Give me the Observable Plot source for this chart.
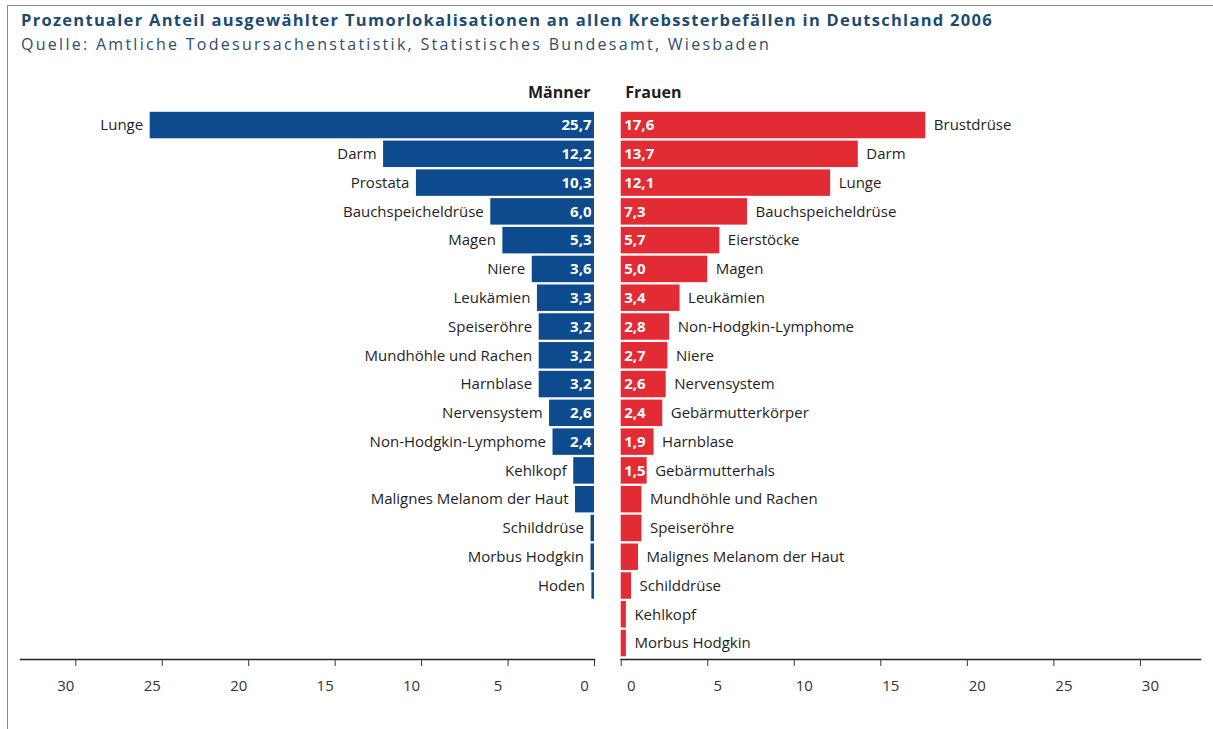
<!DOCTYPE html>
<html>
<head>
<meta charset="utf-8">
<script src="https://cdn.jsdelivr.net/npm/d3@7"></script>
<script src="https://cdn.jsdelivr.net/npm/@observablehq/plot@0.6"></script>
<style>
  html, body { margin: 0; padding: 0; background: #fff; }
  #wrap { position: relative; width: 1213px; height: 729px; overflow: hidden; font-family: "Open Sans", sans-serif; }
  #frameTop { position: absolute; left: 7px; top: 5px; right: 0; height: 0; border-top: 1px solid #8a8a8a; }
  #frameLeft { position: absolute; left: 7px; top: 5px; bottom: 0; width: 0; border-left: 1px solid #8a8a8a; }
  .head { position: absolute; left: 21px; white-space: nowrap; display: inline-block; line-height: 1; }
  #title { top: 12px; font-size: 16.5px; font-weight: bold; color: #1a4c72; }
  #subtitle { top: 36px; font-size: 16px; color: #2e4d68; }
  #left { position: absolute; left: 0; top: 70px; }
  #right { position: absolute; left: 607px; top: 70px; }
</style>
</head>
<body>
<div id="wrap">
  <div id="left"></div>
  <div id="right"></div>
  <div class="head" id="title">Prozentualer Anteil ausgewählter Tumorlokalisationen an allen Krebssterbefällen in Deutschland 2006</div>
  <div class="head" id="subtitle">Quelle: Amtliche Todesursachenstatistik, Statistisches Bundesamt, Wiesbaden</div>
  <div id="frameTop"></div>
  <div id="frameLeft"></div>
</div>
<script>
// ---- data ----
const maleCategories = ["Lunge", "Darm", "Prostata", "Bauchspeicheldrüse", "Magen", "Niere", "Leukämien", "Speiseröhre", "Mundhöhle und Rachen", "Harnblase", "Nervensystem", "Non-Hodgkin-Lymphome", "Kehlkopf", "Malignes Melanom der Haut", "Schilddrüse", "Morbus Hodgkin", "Hoden"];
const maleValues = [25.7, 12.2, 10.3, 6.0, 5.3, 3.6, 3.3, 3.2, 3.2, 3.2, 2.6, 2.4, 1.2, 1.1, 0.2, 0.2, 0.15];
const femaleCategories = ["Brustdrüse", "Darm", "Lunge", "Bauchspeicheldrüse", "Eierstöcke", "Magen", "Leukämien", "Non-Hodgkin-Lymphome", "Niere", "Nervensystem", "Gebärmutterkörper", "Harnblase", "Gebärmutterhals", "Mundhöhle und Rachen", "Speiseröhre", "Malignes Melanom der Haut", "Schilddrüse", "Kehlkopf", "Morbus Hodgkin"];
const femaleValues = [17.6, 13.7, 12.1, 7.3, 5.7, 5.0, 3.4, 2.8, 2.7, 2.6, 2.4, 1.9, 1.5, 1.2, 1.2, 1.0, 0.6, 0.3, 0.3];
const tickValues = [0, 5, 10, 15, 20, 25, 30];
const panelTitles = ["Männer", "Frauen"];
const labelThreshold = 1.5;

// ---- styling ----
const BLUE = "#0d4b8e";
const RED = "#e32b36";
const FONT = "Open Sans, sans-serif";
const ranks = d3.range(Math.max(maleCategories.length, femaleCategories.length));
const fmt = v => v.toFixed(1).replace(".", ",");

const male = maleCategories.map((name, i) => ({rank: i, name, value: maleValues[i]}));
const female = femaleCategories.map((name, i) => ({rank: i, name, value: femaleValues[i]}));

function panel(data, side) {
  const isLeft = side === "left";
  const color = isLeft ? BLUE : RED;
  return Plot.plot({
    width: isLeft ? 607 : 606,
    height: 659,
    marginTop: 41.8,
    marginBottom: 70,
    marginLeft: isLeft ? 20 : 13.7,
    marginRight: 13,
    style: {background: "transparent", fontFamily: FONT, fontSize: "15px", color: "#222", overflow: "visible"},
    x: {domain: [0, isLeft ? 33.2 : 33.47], reverse: isLeft, label: null},
    y: {type: "band", domain: ranks, paddingInner: 0.08, paddingOuter: 0, round: false, insetBottom: 2.7, axis: null},
    marks: [
      Plot.barX(data, {x: "value", y: "rank", fill: color}),
      Plot.text(data, {
        x: "value", y: "rank", text: "name",
        textAnchor: isLeft ? "end" : "start", dx: isLeft ? -7 : 8,
        fill: "#1e1e1e", fontSize: 15
      }),
      Plot.text(data.filter(d => d.value >= labelThreshold), {
        x: 0, y: "rank", text: d => fmt(d.value),
        textAnchor: isLeft ? "end" : "start", dx: isLeft ? -3 : 3,
        fill: "white", fontWeight: "bold", fontSize: 15
      }),
      Plot.frame({anchor: "bottom", stroke: "#222", strokeWidth: 1.5}),
      Plot.axisX({ticks: tickValues, tickSize: 7, tickFormat: () => "", stroke: "#333", label: null}),
      Plot.axisX({ticks: tickValues, tickSize: 0, tickPadding: 21, dx: isLeft ? -10 : 10,
        tickFormat: d => String(d), fill: "#333", fontSize: 15, label: null}),
      Plot.text([isLeft ? panelTitles[0] : panelTitles[1]], {
        frameAnchor: isLeft ? "top-right" : "top-left",
        text: d => d, dy: -19, dx: isLeft ? -4 : 4, lineAnchor: "middle",
        fontWeight: "bold", fontSize: 16, fill: "#1e1e1e"
      })
    ]
  });
}

document.getElementById("left").appendChild(panel(male, "left"));
document.getElementById("right").appendChild(panel(female, "right"));

// fit title/subtitle widths via letter spacing
function fit(id, target) {
  const el = document.getElementById(id);
  const n = el.textContent.length;
  const w = el.getBoundingClientRect().width;
  el.style.letterSpacing = ((target - w) / n) + "px";
}
fit("title", 972);
fit("subtitle", 750);
</script>
</body>
</html>
